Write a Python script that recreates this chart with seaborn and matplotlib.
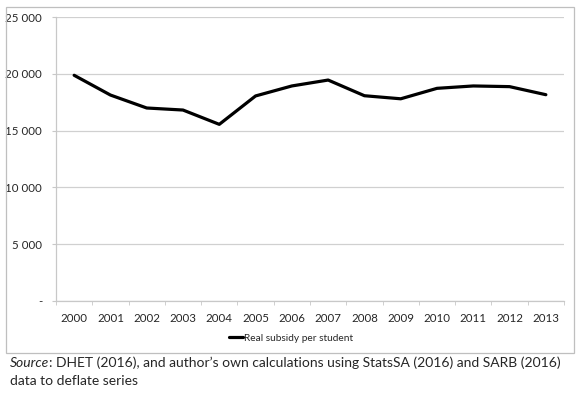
import matplotlib
matplotlib.use("Agg")
import matplotlib.pyplot as plt
import matplotlib.patches as patches
import seaborn as sns
import pandas as pd

# Real subsidy per student (Rand)
years = ["2000", "2001", "2002", "2003", "2004", "2005", "2006",
         "2007", "2008", "2009", "2010", "2011", "2012", "2013"]
subsidy = [19870, 18130, 16990, 16810, 15550, 18050, 18930,
           19450, 18070, 17800, 18720, 18930, 18870, 18160]
y_ticks = [0, 5000, 10000, 15000, 20000, 25000]
y_labels = ["-", "5 000", "10 000", "15 000", "20 000", "25 000"]

df = pd.DataFrame({"year": years, "subsidy": subsidy})

sns.set_style("white")
plt.rcParams["font.family"] = ["Lato", "DejaVu Sans"]

W, H = 581, 398
fig = plt.figure(figsize=(W / 100, H / 100), dpi=100)
ax = fig.add_axes([56 / W, 1 - 301 / H, (564 - 56) / W, (301 - 17) / H])

sns.lineplot(data=df, x="year", y="subsidy", color="black", linewidth=2.3,
             ax=ax, label="Real subsidy per student", legend=False)

ax.set_xlim(-0.5, len(years) - 0.5)
ax.set_ylim(0, 25000)
ax.set_yticks(y_ticks)
ax.set_yticklabels(y_labels)
ax.set_xticks(range(len(years)))
ax.set_xticklabels(years)
ax.set_xticks([i - 0.5 for i in range(len(years) + 1)], minor=True)
ax.set_xlabel("")
ax.set_ylabel("")

ax.grid(axis="y", color="#d0d0d0", linewidth=0.9)
ax.set_axisbelow(True)
for side in ["top", "right"]:
    ax.spines[side].set_visible(False)
for side in ["left", "bottom"]:
    ax.spines[side].set_color("#c8c8c8")
    ax.spines[side].set_linewidth(0.9)

ax.tick_params(axis="y", which="major", length=3, color="#c8c8c8",
               labelsize=8.3, pad=7, left=True)
ax.tick_params(axis="x", which="major", length=0, labelsize=8.3, pad=9)
ax.tick_params(axis="x", which="minor", length=3, color="#c8c8c8", bottom=True)

fig.legend(loc="center", bbox_to_anchor=(291 / W, 1 - 338 / H),
           frameon=False, fontsize=7.3, handlelength=1.4, handletextpad=0.05)

# outer chart frame
fig.add_artist(patches.Rectangle((6 / W, 1 - 353 / H), (574 - 6) / W,
                                 (353 - 7) / H, transform=fig.transFigure,
                                 fill=False, edgecolor="#bfbfbf", linewidth=0.9))

# caption with italic "Source"
src = fig.text(10 / W, 1 - 363 / H, "Source", fontsize=10, style="italic",
               va="center", ha="left")
ax.annotate(": DHET (2016), and author\u2019s own calculations using StatsSA (2016) and SARB (2016)",
            xy=(1, 0), xycoords=src, fontsize=10, va="bottom", ha="left",
            annotation_clip=False)
fig.text(10 / W, 1 - 381 / H, "data to deflate series", fontsize=10,
         va="center", ha="left")

fig.savefig("out.png", dpi=100)
